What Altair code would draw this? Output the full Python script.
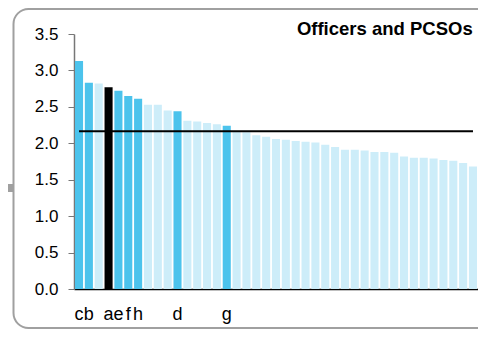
import altair as alt
import pandas as pd

# --- data -------------------------------------------------------------
ids = ["c", "b", "03", "a", "e", "f", "h", "08", "09", "10",
       "d", "12", "13", "14", "15", "g", "17", "18", "19", "20",
       "21", "22", "23", "24", "25", "26", "27", "28", "29", "30",
       "31", "32", "33", "34", "35", "36", "37", "38", "39", "40", "41"]
values = [3.13, 2.83, 2.82, 2.77, 2.72, 2.65, 2.61, 2.53, 2.53, 2.45,
          2.44, 2.31, 2.30, 2.28, 2.26, 2.24, 2.17, 2.15, 2.11, 2.09,
          2.06, 2.05, 2.03, 2.02, 2.01, 1.98, 1.95, 1.91, 1.91, 1.90,
          1.88, 1.88, 1.87, 1.82, 1.80, 1.80, 1.79, 1.77, 1.76, 1.73, 1.68]
kinds = ["hl", "hl", "base", "black", "hl", "hl", "hl", "base", "base", "base",
         "hl", "base", "base", "base", "base", "hl"] + ["base"] * 25
average = 2.165
y_ticks = [0, 0.5, 1.0, 1.5, 2.0, 2.5, 3.0, 3.5]
title_text = ["Officers and PCSOs"]

df = pd.DataFrame({"cat": ids, "value": values, "kind": kinds})
rule_df = pd.DataFrame({"cat": [ids[0]], "cat2": [ids[-1]], "value": [average]})
title_df = pd.DataFrame({"t": title_text})
one = pd.DataFrame({"k": [0]})

FONT = "Liberation Sans"

x_scale = alt.Scale(domain=ids, paddingInner=0.18, paddingOuter=0.1)
y_scale = alt.Scale(domain=[0, 3.5], nice=False)

x_axis = alt.Axis(title=None, ticks=False, tickSize=0, labelAngle=0,
                  labelFontSize=18, labelPadding=30,
                  labelBaseline="alphabetic", labelColor="#000",
                  labelFont=FONT, domainColor="#000", domainWidth=1.5,
                  labelExpr="length(datum.value) == 1 ? datum.value : ''")
y_axis = alt.Axis(title=None, values=y_ticks, format=".1f", grid=False,
                  tickSize=6, tickColor="#777", domainColor="#777",
                  domainWidth=1.5, labelFontSize=17, labelPadding=10,
                  labelOverlap=False, labelColor="#000", labelFont=FONT)

bars = alt.Chart(df).mark_bar().encode(
    x=alt.X("cat:N", sort=None, scale=x_scale, axis=x_axis),
    y=alt.Y("value:Q", scale=y_scale, axis=y_axis),
    color=alt.Color("kind:N", legend=None,
                    scale=alt.Scale(domain=["hl", "base", "black"],
                                    range=["#4cc3ec", "#cdedf9", "#000000"])),
)

rule = alt.Chart(rule_df).mark_rule(color="#000", strokeWidth=2).encode(
    x=alt.X("cat:N", sort=None, scale=x_scale, axis=x_axis),
    x2="cat2:N",
    y=alt.Y("value:Q", scale=y_scale, axis=y_axis),
)

title = alt.Chart(title_df).mark_text(
    align="right", baseline="alphabetic", font=FONT, fontSize=18.5,
    fontWeight="bold", color="#000"
).encode(text="t:N", x=alt.value(398.7), y=alt.value(1))

frame = alt.Chart(one).mark_rect(filled=False, stroke="#a0a0a0", strokeWidth=2,
                                 cornerRadius=15).encode(
    x=alt.value(-60.5), x2=alt.value(420), y=alt.value(-25), y2=alt.value(294)
)

side = alt.Chart(one).mark_rect(color="#a0a0a0").encode(
    x=alt.value(-66), x2=alt.value(-61), y=alt.value(150), y2=alt.value(158)
)

chart = alt.layer(bars, rule, title, frame, side).properties(
    width=404,
    height=255,
    autosize=alt.AutoSizeParams(type="none"),
    padding={"left": 66, "top": 26, "right": 0, "bottom": 40},
).configure_view(stroke=None)

chart.save("out.html", embed_options={"renderer": "svg", "actions": False})
